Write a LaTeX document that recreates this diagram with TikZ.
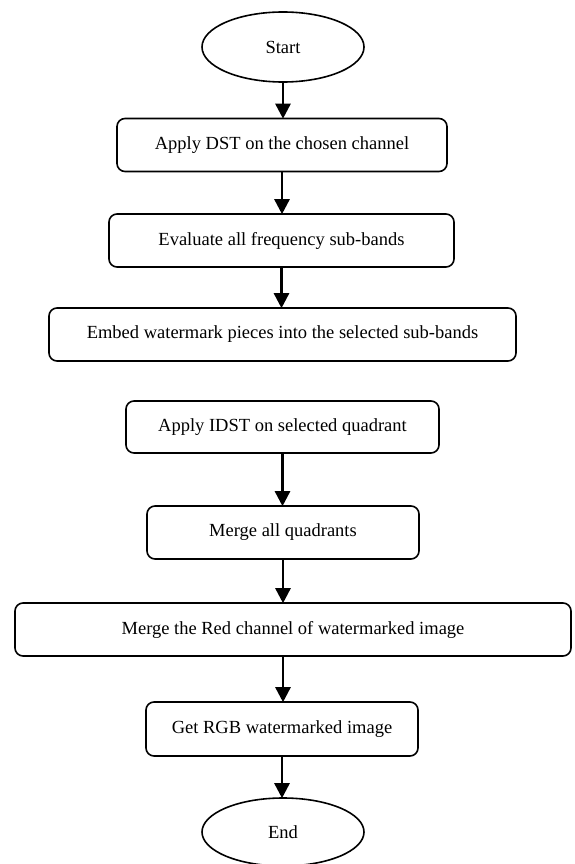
\documentclass[tikz,border=0pt]{standalone}
\usepackage{fontspec}
\setmainfont{Liberation Serif}
\usetikzlibrary{arrows.meta,shapes.geometric}
\begin{document}
\begin{tikzpicture}[x=1pt,y=-1pt,
  every node/.style={font=\fontsize{18.5}{22}\selectfont, inner sep=0pt},
  stepbox/.style={draw, line width=1.6pt, rounded corners=8pt, minimum height=53pt},
  term/.style={draw, ellipse, line width=1.6pt, minimum width=162pt, minimum height=70pt},
  arr/.style={line width=2.6pt, -{Triangle[width=15pt,length=15pt]}, shorten >=-1pt}]
\useasboundingbox (0,0) rectangle (574,864);
\node[term] (start) at (283,47) {Start};
\node[stepbox, minimum width=330pt] (b1) at (282,145) {Apply DST on the chosen channel};
\node[stepbox, minimum width=345pt] (b2) at (281.5,240.5) {Evaluate all frequency sub-bands};
\node[stepbox, minimum width=467pt] (b3) at (282.5,334.5) {Embed watermark pieces into the selected sub-bands};
\node[stepbox, minimum width=313pt, minimum height=52pt] (b4) at (282.5,427) {Apply IDST on selected quadrant};
\node[stepbox, minimum width=272pt] (b5) at (283,532.5) {Merge all quadrants};
\node[stepbox, minimum width=556pt] (b6) at (293,629.5) {Merge the Red channel of watermarked image};
\node[stepbox, minimum width=272pt, minimum height=54pt] (b7) at (282,729) {Get RGB watermarked image};
\node[term, minimum height=68pt] (end) at (283,832) {End};
\draw[arr] (start.south) -- (start.south |- b1.north);
\draw[arr] (b1.south) -- (b1.south |- b2.north);
\draw[arr] (b2.south) -- (b2.south |- b3.north);
\draw[arr] (b4.south) -- (b4.south |- b5.north);
\draw[arr] (b5.south) -- (b5.south |- b6.north);
\draw[arr] (b5.south |- b6.south) -- (b5.south |- b7.north);
\draw[arr] (b7.south) -- (b7.south |- end.north);
\end{tikzpicture}
\end{document}
